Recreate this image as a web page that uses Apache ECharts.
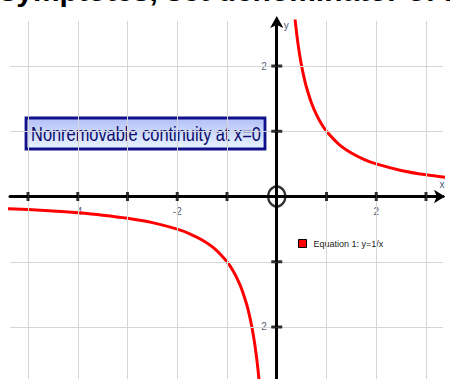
<!DOCTYPE html>
<html>
<head>
<meta charset="utf-8">
<script src="https://cdn.jsdelivr.net/npm/echarts@6/dist/echarts.min.js"></script>
<style>
  html, body { margin: 0; padding: 0; background: #fff; }
  #chart { width: 450px; height: 379px; }
</style>
</head>
<body>
<div id="chart"></div>
<script>
// Sample points of y = 1/x, left branch (x < 0)
const leftX = [-5.6, -5, -4.5, -4, -3.5, -3, -2.5, -2, -1.75, -1.5, -1.25, -1, -0.9, -0.8, -0.7, -0.6, -0.55, -0.5, -0.45, -0.4, -0.37, -0.34];
const leftY = [-0.179, -0.2, -0.222, -0.25, -0.286, -0.333, -0.4, -0.5, -0.571, -0.667, -0.8, -1, -1.111, -1.25, -1.429, -1.667, -1.818, -2, -2.222, -2.5, -2.703, -2.941];
// Right branch (x > 0)
const rightX = [0.35, 0.38, 0.42, 0.46, 0.5, 0.55, 0.6, 0.7, 0.8, 0.9, 1, 1.25, 1.5, 1.75, 2, 2.5, 3, 3.5];
const rightY = [2.857, 2.632, 2.381, 2.174, 2, 1.818, 1.667, 1.429, 1.25, 1.111, 1, 0.8, 0.667, 0.571, 0.5, 0.4, 0.333, 0.286];

// Axis ticks, grid lines and labelled ticks
const xTicks = [-5, -4, -3, -2, -1, 1, 2, 3];
const yTicks = [-2, -1, 1, 2];
const xGrid = [-5, -4, -3, -2, -1, 1, 2, 3];
const yGrid = [-2, -1, 1, 2];
const xLabels = [-4, -2, 2];
const yLabels = [-2, 2];

const seriesName = 'Equation 1: y=1/x';
const note = 'Nonremovable continuity at x=0';
const heading = 'Asymptotes, set denominator of rational function equal to zero';

const pairs = (xs, ys) => xs.map((x, i) => [x, ys[i]]);

const chart = echarts.init(document.getElementById('chart'), null, { renderer: 'svg' });

const tickLabelStyle = {
  show: true,
  fontFamily: 'Liberation Sans, Arial, sans-serif',
  fontSize: 10,
  color: '#2a3150'
};

const option = {
  animation: false,
  backgroundColor: '#ffffff',
  grid: { left: 10, right: 7, top: 21, bottom: 0, containLabel: false, outerBoundsMode: 'none' },
  xAxis: {
    type: 'value',
    min: -5.362,
    max: 3.342,
    name: 'x',
    nameLocation: 'end',
    nameGap: -1,
    nameTextStyle: { fontFamily: 'Liberation Sans, Arial, sans-serif', fontSize: 10, color: '#4a5578', align: 'center', verticalAlign: 'bottom', padding: [0, 0, 7, 0] },
    axisLine: { show: true, onZero: true, symbol: ['none', 'arrow'], symbolSize: [10, 11], symbolOffset: [0, 2], lineStyle: { color: '#000', width: 3 } },
    axisTick: { show: false },
    splitLine: { show: false },
    axisLabel: { show: false }
  },
  yAxis: {
    type: 'value',
    min: -2.797,
    max: 2.690,
    name: 'y',
    nameLocation: 'end',
    nameGap: -4,
    nameTextStyle: { fontFamily: 'Liberation Sans, Arial, sans-serif', fontSize: 10, color: '#4a5578', align: 'left', verticalAlign: 'middle', padding: [0, 0, 0, 7] },
    axisLine: { show: true, onZero: true, symbol: ['none', 'arrow'], symbolSize: [10, 12], symbolOffset: [0, 5], lineStyle: { color: '#000', width: 3 } },
    axisTick: { show: false },
    splitLine: { show: false },
    axisLabel: { show: false }
  },
  legend: {
    data: [seriesName],
    left: 293,
    top: 234,
    icon: 'rect',
    itemWidth: 8,
    itemHeight: 8,
    itemGap: 5,
    itemStyle: { borderColor: '#000', borderWidth: 1 },
    textStyle: { fontFamily: 'Liberation Sans, Arial, sans-serif', fontSize: 9, color: '#222', padding: [0, 0, 0, 2] }
  },
  graphic: [
    {
      type: 'text',
      x: -22,
      y: -23,
      scaleX: 1.07,
      silent: true,
      style: { text: heading, fill: '#000', font: 'bold 28px "Liberation Sans", Arial, sans-serif' }
    },
    {
      type: 'group',
      x: 26,
      y: 118,
      silent: true,
      children: [
        {
          type: 'rect',
          shape: { x: 0, y: 0, width: 239, height: 31 },
          style: {
            fill: new echarts.graphic.LinearGradient(0, 0, 0, 1, [
              { offset: 0, color: '#b2bff8' },
              { offset: 1, color: '#eaf5ff' }
            ]),
            stroke: '#10108a',
            lineWidth: 2.8
          }
        },
        {
          type: 'text',
          x: 120,
          y: 16,
          scaleX: 0.82,
          style: {
            text: note,
            fill: '#0a0a6a',
            align: 'center',
            verticalAlign: 'middle',
            font: '20px "Liberation Sans", Arial, sans-serif'
          }
        }
      ]
    }
  ],
  series: [
    {
      // background grid lines
      type: 'line',
      data: [],
      silent: true,
      markLine: {
        silent: true,
        symbol: ['none', 'none'],
        label: { show: false },
        lineStyle: { color: '#d6d6d6', width: 1, type: 'solid' },
        emphasis: { disabled: true },
        data: xGrid.map(v => ({ xAxis: v })).concat(yGrid.map(v => ({ yAxis: v })))
      },
      z: 1
    },
    {
      // x tick labels, hung just below the x axis
      type: 'scatter',
      data: xLabels.map(v => [v, 0]),
      symbolSize: 0,
      silent: true,
      label: Object.assign({ position: 'bottom', distance: 10, formatter: p => String(p.value[0]) }, tickLabelStyle),
      z: 2
    },
    {
      // y tick labels, left of the y axis
      type: 'scatter',
      data: yLabels.map(v => [0, v]),
      symbolSize: 0,
      silent: true,
      label: Object.assign({ position: 'left', distance: 10, formatter: p => String(p.value[1]) }, tickLabelStyle),
      z: 2
    },
    {
      name: seriesName,
      type: 'line',
      data: pairs(leftX, leftY),
      smooth: 0.3,
      showSymbol: false,
      clip: true,
      itemStyle: { color: '#ff0000' },
      lineStyle: { color: '#ff0000', width: 3 },
      z: 4
    },
    {
      name: seriesName,
      type: 'line',
      data: pairs(rightX, rightY),
      smooth: 0.3,
      showSymbol: false,
      clip: true,
      itemStyle: { color: '#ff0000' },
      lineStyle: { color: '#ff0000', width: 3 },
      z: 4
    },
    {
      // tick marks crossing the x axis
      type: 'scatter',
      data: xTicks.map(v => [v, 0]),
      symbol: 'rect',
      symbolSize: [3, 9],
      itemStyle: { color: '#000' },
      silent: true,
      z: 5
    },
    {
      // tick marks crossing the y axis
      type: 'scatter',
      data: yTicks.map(v => [0, v]),
      symbol: 'rect',
      symbolSize: [11, 3],
      itemStyle: { color: '#000' },
      silent: true,
      z: 5
    },
    {
      // ring marking the discontinuity at the origin
      type: 'scatter',
      data: [[0, 0]],
      symbol: 'circle',
      symbolSize: [17, 20],
      itemStyle: { color: 'rgba(0,0,0,0)', borderColor: '#000', borderWidth: 2.5 },
      silent: true,
      z: 6
    }
  ]
};

chart.setOption(option);
</script>
</body>
</html>
